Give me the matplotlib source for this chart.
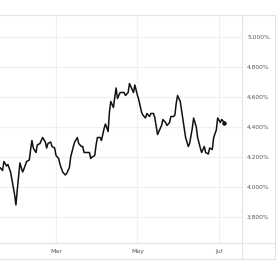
import pandas as pd
import matplotlib
matplotlib.use('Agg')
import matplotlib.pyplot as plt
import matplotlib.dates as mdates
from matplotlib.lines import Line2D

# Yield series (2024)
dates = [
    '01-19', '01-21', '01-22', '01-24', '01-25', '01-27', '01-28', '01-30', '01-31', '02-01',
    '02-02', '02-03', '02-05', '02-06', '02-08', '02-10', '02-11', '02-12', '02-13', '02-15',
    '02-16', '02-18', '02-19', '02-20', '02-22', '02-23', '02-24', '02-26', '02-27', '02-29',
    '03-01', '03-03', '03-04', '03-06', '03-08', '03-09', '03-11', '03-12', '03-14', '03-15',
    '03-17', '03-18', '03-20', '03-21', '03-22', '03-23', '03-25', '03-26', '03-27', '03-28',
    '03-30', '03-31', '04-01', '04-03', '04-04', '04-06', '04-07', '04-09', '04-10', '04-11',
    '04-13', '04-14', '04-15', '04-16', '04-18', '04-19', '04-21', '04-22', '04-24', '04-25',
    '04-26', '04-28', '04-29', '05-01', '05-02', '05-04', '05-05', '05-07', '05-08', '05-10',
    '05-11', '05-13', '05-14', '05-16', '05-17', '05-19', '05-20', '05-22', '05-23', '05-25',
    '05-26', '05-28', '05-29', '05-30', '05-31', '06-02', '06-03', '06-05', '06-06', '06-08',
    '06-09', '06-11', '06-12', '06-14', '06-15', '06-17', '06-18', '06-20', '06-21', '06-23',
    '06-24', '06-26', '06-27', '06-29', '06-30', '07-02', '07-03', '07-05',
]
yields = [
    4.13, 4.11, 4.17, 4.14, 4.15, 4.10, 4.05, 3.95, 3.88, 3.98,
    4.07, 4.16, 4.10, 4.12, 4.17, 4.18, 4.25, 4.31, 4.26, 4.23,
    4.28, 4.29, 4.31, 4.33, 4.30, 4.26, 4.29, 4.30, 4.27, 4.26,
    4.21, 4.19, 4.15, 4.10, 4.08, 4.09, 4.13, 4.20, 4.27, 4.30,
    4.33, 4.29, 4.27, 4.27, 4.23, 4.23, 4.23, 4.23, 4.19, 4.20,
    4.21, 4.28, 4.33, 4.33, 4.31, 4.39, 4.42, 4.37, 4.50, 4.57,
    4.53, 4.60, 4.66, 4.59, 4.63, 4.63, 4.63, 4.61, 4.63, 4.69,
    4.67, 4.63, 4.68, 4.61, 4.58, 4.50, 4.48, 4.46, 4.49, 4.47,
    4.49, 4.49, 4.46, 4.35, 4.37, 4.41, 4.45, 4.43, 4.41, 4.43,
    4.47, 4.47, 4.48, 4.56, 4.61, 4.57, 4.51, 4.39, 4.33, 4.27,
    4.29, 4.39, 4.46, 4.40, 4.33, 4.26, 4.23, 4.27, 4.23, 4.22,
    4.26, 4.25, 4.33, 4.38, 4.46, 4.43, 4.45, 4.43,
]
month_ticks = ['2024-03-01', '2024-05-01', '2024-07-01']
month_labels = ['Mar', 'May', 'Jul']
y_ticks = [3.8, 4.0, 4.2, 4.4, 4.6, 4.8, 5.0]

x = pd.to_datetime(['2024-' + d for d in dates])

W = H = 280
fig = plt.figure(figsize=(2.8, 2.8), dpi=100)
ax = fig.add_axes([0, (H - 243) / H, 242 / W, (243 - 15) / H])

ax.plot(x, yields, color='#111111', lw=1.1, solid_joinstyle='round')
ax.plot(x[-1:], yields[-1:], 'o', color='#111111', ms=2.2)

mar1 = mdates.date2num(pd.Timestamp('2024-03-01'))
px_day = 163 / 122
ax.set_xlim(mar1 - 56 / px_day, mar1 + (242 - 56) / px_day)
ax.set_ylim(3.8 - 26 / 150, 5.0 + 22 / 150)

ax.set_xticks(pd.to_datetime(month_ticks))
ax.set_xticklabels(month_labels)
ax.set_yticks(y_ticks)
ax.set_yticklabels(['%.3f%%' % v for v in y_ticks])
ax.yaxis.tick_right()
ax.tick_params(axis='y', length=0, pad=3.6, labelsize=4.3, labelcolor='#555555')
ax.tick_params(axis='x', length=0, pad=4.6, labelsize=4.5, labelcolor='#555555')
for lab in ax.get_yticklabels():
    lab.set_horizontalalignment('left')

ax.grid(True, color='#f0f0f0', lw=0.8)
ax.set_axisbelow(True)
for s in ax.spines.values():
    s.set_visible(False)

# frame lines around plot, axis band and label panel
frame = '#e3e3e3'
def hline(y, x0=0, x1=275):
    fig.add_artist(Line2D([x0 / W, x1 / W], [1 - y / H, 1 - y / H], color=frame, lw=0.8,
                          transform=fig.transFigure))

def vline(xp, y0=15, y1=259):
    fig.add_artist(Line2D([xp / W, xp / W], [1 - y0 / H, 1 - y1 / H], color=frame, lw=0.8,
                          transform=fig.transFigure))

hline(15)
hline(243)
hline(259)
vline(242)
vline(275)

fig.savefig('out.png', dpi=100)
